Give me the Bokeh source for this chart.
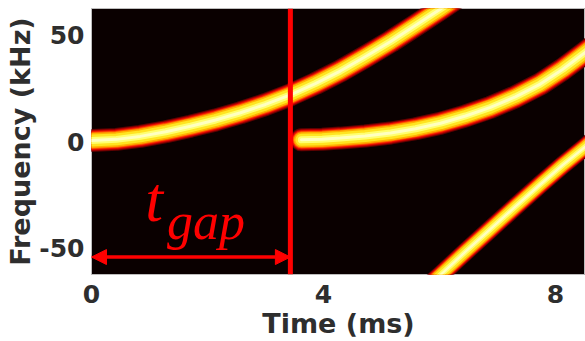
from bokeh.plotting import figure
from bokeh.models import Span, Arrow, NormalHead, Label, FixedTicker, Range1d
from bokeh.embed import file_html
from bokeh.resources import INLINE

# Chirp ridges of the spectrogram: time (ms) and instantaneous frequency (kHz)
TIME_MS_1 = [-0.10, 0.43, 0.84, 1.28, 1.71, 2.14, 2.57, 3.00, 3.43,
             3.86, 4.29, 4.72, 5.16, 5.59, 6.02, 6.30]
FREQ_KHZ_1 = [0.3, 1.0, 2.4, 4.6, 7.2, 10.1, 13.5, 17.4, 21.9,
              27.2, 33.1, 39.8, 47.0, 54.6, 62.3, 67.5]

TIME_MS_2 = [3.62, 3.98, 4.29, 4.72, 5.16, 5.59, 6.02, 6.45, 6.88,
             7.31, 7.74, 8.13, 8.52, 8.80]
FREQ_KHZ_2 = [0.8, 1.1, 1.6, 2.6, 4.0, 6.0, 8.6, 12.0, 16.0,
              21.0, 27.0, 34.0, 42.0, 48.0]

TIME_MS_3 = [5.85, 6.03, 6.45, 6.88, 7.31, 7.74, 8.13, 8.52, 8.80]
FREQ_KHZ_3 = [-66.8, -62.4, -51.8, -41.2, -30.6, -20.2, -11.0, -2.4, 4.2]

T_GAP_MS = 3.43          # restart time of the chirp
ARROW_FREQ_KHZ = -54.3   # height of the t_gap arrow

TIME_TICKS = [0, 4, 8]
FREQ_TICKS = [-50, 0, 50]
FREQ_TICK_LABELS = ["-50", "0", "50"]

TIME_RANGE = (0.0, 8.52)
FREQ_RANGE = (-62.5, 62.5)

# "hot" colour ramp, drawn as stacked strokes from the dim halo to the bright core
HEAT_LAYERS = [
    (23, "#5e0000"),
    (21, "#b00000"),
    (19, "#f01000"),
    (17, "#ff6000"),
    (15, "#ffb000"),
    (12, "#ffe420"),
    (7, "#ffff70"),
    (3, "#ffffc0"),
]

TEXT_COLOR = "#2e2e2e"
FONT = "DejaVu Sans"

p = figure(
    width=585, height=341,
    x_range=Range1d(*TIME_RANGE), y_range=Range1d(*FREQ_RANGE),
    output_backend="svg", toolbar_location=None,
    min_border_left=91, min_border_right=0,
    min_border_top=8, min_border_bottom=67,
)
p.background_fill_color = "#0a0000"
p.border_fill_color = "white"
p.outline_line_color = "#bdbdbd"
p.outline_line_width = 1
p.grid.visible = False


def heat_curve(xs, ys, scale=1.0):
    for w, c in HEAT_LAYERS:
        p.line(xs, ys, line_width=w * scale, line_color=c,
               line_cap="round", line_join="round")


heat_curve(TIME_MS_1, FREQ_KHZ_1)
heat_curve(TIME_MS_2, FREQ_KHZ_2)
heat_curve(TIME_MS_3, FREQ_KHZ_3, scale=0.8)

# gap marker
p.add_layout(Span(location=T_GAP_MS, dimension="height",
                  line_color="#ff0000", line_width=5))
p.add_layout(Arrow(
    start=NormalHead(size=15, fill_color="#ff0000", line_color="#ff0000", line_width=1),
    end=NormalHead(size=15, fill_color="#ff0000", line_color="#ff0000", line_width=1),
    x_start=0, y_start=ARROW_FREQ_KHZ, x_end=T_GAP_MS, y_end=ARROW_FREQ_KHZ,
    line_color="#ff0000", line_width=3.5,
))
p.add_layout(Label(x=T_GAP_MS * 0.27, y=-27.4, text="t",
                   text_font="Liberation Serif", text_font_style="italic",
                   text_font_size="64px", text_color="#ff0000",
                   text_baseline="alphabetic"))
p.add_layout(Label(x=T_GAP_MS * 0.38, y=-37.4, text="gap",
                   text_font="Liberation Serif", text_font_style="italic",
                   text_font_size="52px", text_color="#ff0000",
                   text_baseline="alphabetic"))

# axes
p.xaxis.ticker = FixedTicker(ticks=TIME_TICKS)
p.yaxis.ticker = FixedTicker(ticks=FREQ_TICKS)
p.yaxis.major_label_overrides = dict(zip(FREQ_TICKS, FREQ_TICK_LABELS))
p.xaxis.axis_label = "Time (ms)"
p.yaxis.axis_label = "Frequency (kHz)"
for ax in (p.xaxis, p.yaxis):
    ax.axis_line_color = None
    ax.major_tick_line_color = None
    ax.minor_tick_line_color = None
    ax.major_tick_out = 0
    ax.major_tick_in = 0
    ax.minor_tick_out = 0
    ax.minor_tick_in = 0
    ax.major_label_text_font = FONT
    ax.major_label_text_font_style = "bold"
    ax.major_label_text_font_size = "25px"
    ax.major_label_text_color = TEXT_COLOR
    ax.axis_label_text_font = FONT
    ax.axis_label_text_font_style = "bold"
    ax.axis_label_text_font_size = "27px"
    ax.axis_label_text_color = TEXT_COLOR
p.xaxis.major_label_standoff = 10
p.xaxis.axis_label_standoff = 2
p.yaxis.major_label_standoff = 7
p.yaxis.axis_label_standoff = 0

open("out.html", "w").write(file_html(p, INLINE))
